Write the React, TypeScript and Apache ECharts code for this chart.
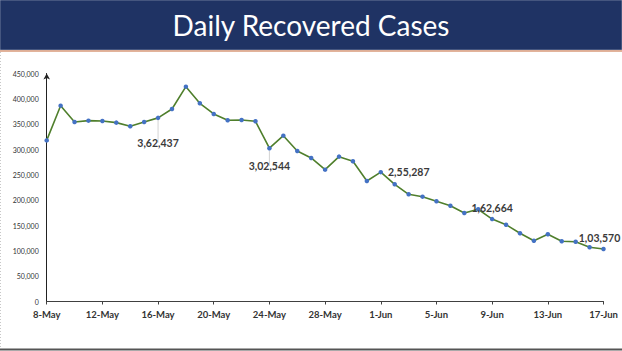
import React, { useEffect, useRef } from "react";
import * as echarts from "echarts";

const dates = [
  "8-May", "9-May", "10-May", "11-May", "12-May", "13-May", "14-May", "15-May",
  "16-May", "17-May", "18-May", "19-May", "20-May", "21-May", "22-May", "23-May",
  "24-May", "25-May", "26-May", "27-May", "28-May", "29-May", "30-May", "31-May",
  "1-Jun", "2-Jun", "3-Jun", "4-Jun", "5-Jun", "6-Jun", "7-Jun", "8-Jun",
  "9-Jun", "10-Jun", "11-Jun", "12-Jun", "13-Jun", "14-Jun", "15-Jun", "16-Jun", "17-Jun",
];

const recovered = [
  318000, 386500, 354300, 356900, 356300, 353000, 345800, 354300,
  362437, 380000, 424000, 391200, 370100, 357600, 358300, 355700,
  302544, 327300, 297100, 283300, 260200, 285900, 276700, 237900,
  255287, 231300, 211600, 206900, 197800, 189100, 174700, 182000,
  162664, 151600, 134600, 120000, 132600, 118800, 118000, 107000, 103570,
];

const annotatedDates = ["16-May", "24-May", "1-Jun", "9-Jun", "17-Jun"];

const yMin = 0;
const yMax = 450000;
const yStep = 50000;

const title = "Daily Recovered Cases";

function fmtIndian(n: number): string {
  const s = String(Math.round(n));
  if (s.length <= 3) return s;
  const last3 = s.slice(-3);
  const rest = s.slice(0, -3).replace(/\B(?=(\d{2})+(?!\d))/g, ",");
  return rest + "," + last3;
}

const labelStyles: Record<string, any> = {
  "16-May": { position: "bottom", distance: 17, withLine: true },
  "24-May": { position: "bottom", distance: 10, withLine: true },
  "1-Jun": { position: "right", distance: 5 },
  "9-Jun": { position: "top", distance: 3 },
  "17-Jun": { position: "top", distance: 3, offset: [-4, 0] },
};

export default function App() {
  const ref = useRef<HTMLDivElement>(null);
  useEffect(() => {
    if (!ref.current) return;
    const chart = echarts.init(ref.current, null, { renderer: "svg" });
    const data = recovered.map((v, i) => {
      const d = dates[i];
      if (annotatedDates.includes(d)) {
        const st = labelStyles[d] || {};
        return {
          value: v,
          label: {
            show: true,
            position: st.position,
            distance: st.distance,
            offset: st.offset || [0, 0],
            formatter: (p: any) => fmtIndian(p.value),
            color: "#3a3a3a",
            fontWeight: "bold",
            fontSize: 10.5,
            fontFamily: "Lato",
          },
          labelLine: st.withLine
            ? { show: true, lineStyle: { color: "#c8c8c8", width: 0.8 } }
            : { show: false },
        };
      }
      return v;
    });
    chart.setOption({
      animation: false,
      backgroundColor: "#ffffff",
      grid: { left: 46.7, right: 18.5, top: 73.5, bottom: 49.5 },
      xAxis: {
        type: "category",
        data: dates,
        boundaryGap: false,
        axisLine: { lineStyle: { color: "#404040", width: 1 } },
        axisTick: { show: true, interval: 3, length: 3, inside: false, lineStyle: { color: "#404040" } },
        axisLabel: {
          interval: 3,
          color: "#333333",
          fontWeight: "bold",
          fontSize: 9.5,
          fontFamily: "Lato",
          margin: 8,
        },
        splitLine: { show: false },
      },
      yAxis: {
        type: "value",
        min: yMin,
        max: yMax,
        interval: yStep,
        axisLine: {
          show: true,
          lineStyle: { color: "#222222", width: 1 },
          symbol: ["none", "arrow"],
          symbolSize: [5, 6],
        },
        axisTick: { show: false },
        axisLabel: {
          color: "#333333",
          fontSize: 7,
          fontFamily: "Lato",
          margin: 8,
          formatter: (v: number) => v.toString().replace(/\B(?=(\d{3})+(?!\d))/g, ","),
        },
        splitLine: { show: false },
      },
      series: [
        {
          type: "line",
          data,
          symbol: "circle",
          symbolSize: 4.5,
          itemStyle: { color: "#4472C4", borderWidth: 0 },
          lineStyle: { color: "#4f7f2c", width: 1.6 },
        },
      ],
      graphic: [
        {
          type: "rect",
          shape: { x: 0, y: 0, width: 622, height: 50 },
          style: { fill: "#1f3364", stroke: "#b8c0d0", lineWidth: 0.5 },
          silent: true,
        },
        {
          type: "line",
          shape: { x1: 0, y1: 51, x2: 622, y2: 51 },
          style: { stroke: "#d99a7a", lineWidth: 1.4 },
          silent: true,
        },
        {
          type: "text",
          x: 311,
          y: 25,
          style: {
            text: title,
            fill: "#ffffff",
            font: "28px Lato",
            align: "center",
            verticalAlign: "middle",
          },
          silent: true,
        },
        {
          type: "line",
          shape: { x1: 0, y1: 349.5, x2: 622, y2: 349.5 },
          style: { stroke: "#555555", lineWidth: 2 },
          silent: true,
        },
        {
          type: "line",
          shape: { x1: 0.5, y1: 52, x2: 0.5, y2: 349 },
          style: { stroke: "#c8c8c8", lineWidth: 1, lineDash: [1, 2] },
          silent: true,
        },
      ],
    });
    return () => chart.dispose();
  }, []);
  return (
    <div
      ref={ref}
      style={{ position: "fixed", left: 0, top: 0, width: 622, height: 351 }}
    />
  );
}
